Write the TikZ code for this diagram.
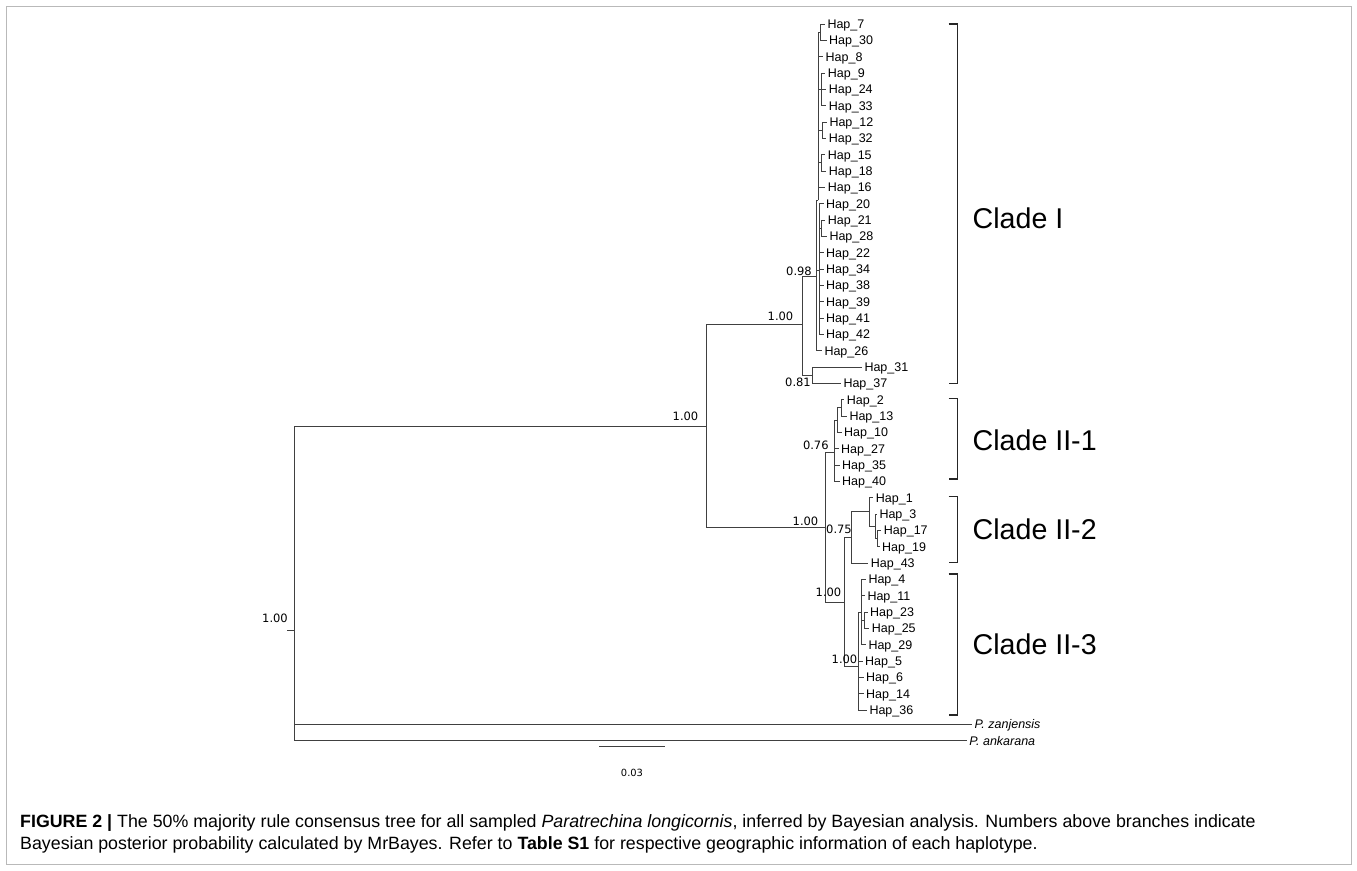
\documentclass[tikz,border=0pt]{standalone}
\usepackage{fontspec}
\setmainfont{Liberation Sans}
\newfontfamily\ppfont{DejaVu Sans}
\begin{document}
\begin{tikzpicture}[x=1pt, y=-1pt,
    br/.style={draw=black!75, line width=0.95pt},
    hap/.style={anchor=west, inner xsep=2.5pt, inner ysep=0pt, text height=9pt, text depth=0pt, font=\fontsize{12.5}{14}\selectfont},
    pp/.style={inner sep=0pt, font=\ppfont\fontsize{11.5}{13}\selectfont},
    brk/.style={draw=black!85, line width=1.3pt},
    clade/.style={anchor=west, inner sep=0pt, font=\fontsize{28.6}{32}\selectfont},
    capline/.style={anchor=base west, inner sep=0pt, font=\fontsize{17.8}{20}\selectfont}
  ]
  \useasboundingbox (0,0) rectangle (1357,870);
  \draw[gray!55, line width=1pt] (6,6) rectangle (1351,864);

  % internal nodes
  \coordinate (root) at (294,630.6);
  \coordinate (ing) at (706,426.7);
  \coordinate (cI) at (802,324.5);
  \coordinate (n98) at (816,276);
  \coordinate (u) at (818,200);
  \coordinate (p730) at (820.5,32.2);
  \coordinate (t924) at (821,89.3);
  \coordinate (p1232) at (822,130.2);
  \coordinate (p1518) at (821,162.8);
  \coordinate (l) at (819.5,270);
  \coordinate (p2128) at (821.5,228.2);
  \coordinate (n81) at (812,375);
  \coordinate (cII) at (825,527);
  \coordinate (n76) at (834,452);
  \coordinate (g) at (837,420);
  \coordinate (p213) at (841.7,407.8);
  \coordinate (ii23) at (844,602.7);
  \coordinate (a22) at (851,537);
  \coordinate (b) at (869,511);
  \coordinate (c) at (875,526);
  \coordinate (d) at (877.5,538.5);
  \coordinate (e3) at (858,666);
  \coordinate (f) at (861,612);
  \coordinate (p2325) at (864,620.2);

  % Clade I leaves
  \node[hap] (h7) at (824.8,24.0) {Hap\_7};
  \node[hap] (h30) at (826.5,40.3) {Hap\_30};
  \node[hap] (h8) at (823,56.7) {Hap\_8};
  \node[hap] (h9) at (825.2,73.0) {Hap\_9};
  \node[hap] (h24) at (826.2,89.3) {Hap\_24};
  \node[hap] (h33) at (826.2,105.7) {Hap\_33};
  \node[hap] (h12) at (826.8,122.0) {Hap\_12};
  \node[hap] (h32) at (826.2,138.3) {Hap\_32};
  \node[hap] (h15) at (825.2,154.6) {Hap\_15};
  \node[hap] (h18) at (826.2,171.0) {Hap\_18};
  \node[hap] (h16) at (825.2,187.3) {Hap\_16};
  \node[hap] (h20) at (823.5,203.6) {Hap\_20};
  \node[hap] (h21) at (825.2,220.0) {Hap\_21};
  \node[hap] (h28) at (826.8,236.3) {Hap\_28};
  \node[hap] (h22) at (823.5,252.6) {Hap\_22};
  \node[hap] (h34) at (823.5,269.0) {Hap\_34};
  \node[hap] (h38) at (823.5,285.3) {Hap\_38};
  \node[hap] (h39) at (823.5,301.6) {Hap\_39};
  \node[hap] (h41) at (823.5,318.0) {Hap\_41};
  \node[hap] (h42) at (823.5,334.3) {Hap\_42};
  \node[hap] (h26) at (821.8,350.6) {Hap\_26};
  \node[hap] (h31) at (861.8,367.0) {Hap\_31};
  \node[hap] (h37) at (840.8,383.3) {Hap\_37};

  % Clade II leaves
  \node[hap] (h2) at (844.2,399.6) {Hap\_2};
  \node[hap] (h13) at (846.8,416.0) {Hap\_13};
  \node[hap] (h10) at (841.5,432.3) {Hap\_10};
  \node[hap] (h27) at (838.5,448.6) {Hap\_27};
  \node[hap] (h35) at (839.5,465.0) {Hap\_35};
  \node[hap] (h40) at (839.5,481.3) {Hap\_40};
  \node[hap] (h1) at (873.2,497.6) {Hap\_1};
  \node[hap] (h3) at (876.8,514.0) {Hap\_3};
  \node[hap] (h17) at (881.2,530.3) {Hap\_17};
  \node[hap] (h19) at (879.5,546.6) {Hap\_19};
  \node[hap] (h43) at (868.2,563.0) {Hap\_43};
  \node[hap] (h4) at (865.8,579.3) {Hap\_4};
  \node[hap] (h11) at (864.8,595.6) {Hap\_11};
  \node[hap] (h23) at (867.5,612.0) {Hap\_23};
  \node[hap] (h25) at (869.2,628.3) {Hap\_25};
  \node[hap] (h29) at (865.8,644.6) {Hap\_29};
  \node[hap] (h5) at (862.5,661.0) {Hap\_5};
  \node[hap] (h6) at (863.5,677.3) {Hap\_6};
  \node[hap] (h14) at (863.5,693.6) {Hap\_14};
  \node[hap] (h36) at (866.8,710.0) {Hap\_36};

  % outgroups
  \node[hap, font=\fontsize{12.5}{14}\selectfont\itshape] (zan) at (972,724.3) {P. zanjensis};
  \node[hap, font=\fontsize{12.5}{14}\selectfont\itshape] (ank) at (966.7,740.7) {P. ankarana};

  % branches
  \draw[br] (root) |- (ing); \draw[br] (root) |- (zan.west); \draw[br] (root) |- (ank.west);
  \draw[br] (root) -- ++(-7,0);
  \draw[br] (ing) |- (cI); \draw[br] (ing) |- (cII);
  \draw[br] (cI) |- (n98); \draw[br] (cI) |- (n81);
  \draw[br] (n81) |- (h31.west); \draw[br] (n81) |- (h37.west);
  \draw[br] (n98) |- (u); \draw[br] (n98) |- (l); \draw[br] (n98) |- (h26.west);
  \draw[br] (u) |- (p730); \draw[br] (u) |- (h8.west); \draw[br] (u) |- (t924);
  \draw[br] (u) |- (p1232); \draw[br] (u) |- (p1518); \draw[br] (u) |- (h16.west);
  \draw[br] (p730) |- (h7.west); \draw[br] (p730) |- (h30.west);
  \draw[br] (t924) |- (h9.west); \draw[br] (t924) |- (h24.west); \draw[br] (t924) |- (h33.west);
  \draw[br] (p1232) |- (h12.west); \draw[br] (p1232) |- (h32.west);
  \draw[br] (p1518) |- (h15.west); \draw[br] (p1518) |- (h18.west);
  \draw[br] (l) |- (h20.west); \draw[br] (l) |- (p2128); \draw[br] (l) |- (h22.west);
  \draw[br] (l) |- (h34.west); \draw[br] (l) |- (h38.west); \draw[br] (l) |- (h39.west);
  \draw[br] (l) |- (h41.west); \draw[br] (l) |- (h42.west);
  \draw[br] (p2128) |- (h21.west); \draw[br] (p2128) |- (h28.west);
  \draw[br] (cII) |- (n76); \draw[br] (cII) |- (ii23);
  \draw[br] (n76) |- (g); \draw[br] (n76) |- (h27.west); \draw[br] (n76) |- (h35.west); \draw[br] (n76) |- (h40.west);
  \draw[br] (g) |- (p213); \draw[br] (g) |- (h10.west);
  \draw[br] (p213) |- (h2.west); \draw[br] (p213) |- (h13.west);
  \draw[br] (ii23) |- (a22); \draw[br] (ii23) |- (e3);
  \draw[br] (a22) |- (b); \draw[br] (a22) |- (h43.west);
  \draw[br] (b) |- (h1.west); \draw[br] (b) |- (c);
  \draw[br] (c) |- (h3.west); \draw[br] (c) |- (d);
  \draw[br] (d) |- (h17.west); \draw[br] (d) |- (h19.west);
  \draw[br] (e3) |- (f); \draw[br] (e3) |- (h5.west); \draw[br] (e3) |- (h6.west);
  \draw[br] (e3) |- (h14.west); \draw[br] (e3) |- (h36.west);
  \draw[br] (f) |- (h4.west); \draw[br] (f) |- (h11.west); \draw[br] (f) |- (p2325); \draw[br] (f) |- (h29.west);
  \draw[br] (p2325) |- (h23.west); \draw[br] (p2325) |- (h25.west);

  % posterior probabilities
  \node[pp] (ppRoot) at (275,618) {1.00};
  \node[pp] (ppIng) at (685.5,416.5) {1.00};
  \node[pp] (ppI) at (780.5,316) {1.00};
  \node[pp] (pp98) at (799,271) {0.98};
  \node[pp] (pp81) at (798,382.5) {0.81};
  \node[pp] (ppII) at (805.5,521) {1.00};
  \node[pp] (pp76) at (815.8,445) {0.76};
  \node[pp] (pp75) at (839,529) {0.75};
  \node[pp] (ppII23) at (828.5,592) {1.00};
  \node[pp] (ppII3) at (844.5,659.5) {1.00};

  % clade brackets
  \draw[brk] (948.5,24) -- (957.5,24) -- (957.5,383.3) -- (948.5,383.3);
  \draw[brk] (948.5,398.3) -- (957.5,398.3) -- (957.5,479) -- (948.5,479);
  \draw[brk] (948.5,496.7) -- (957.5,496.7) -- (957.5,562.7) -- (948.5,562.7);
  \draw[brk] (948.5,574) -- (957.5,574) -- (957.5,715) -- (948.5,715);
  \node[clade] (cladeI) at (972.5,218) {Clade I};
  \node[clade] (cladeII1) at (972.5,440) {Clade II-1};
  \node[clade] (cladeII2) at (972.5,529.7) {Clade II-2};
  \node[clade] (cladeII3) at (972.5,644.5) {Clade II-3};

  % scale bar
  \coordinate (sb1) at (599,746);
  \coordinate (sb2) at (665,746);
  \draw[br] (sb1) -- (sb2);
  \node[pp, font=\ppfont\fontsize{9.9}{11}\selectfont] (sbl) at (632,773) {0.03};

  % caption
  \node[capline] (cap1) at (20,827) {\textbf{FIGURE 2 |} The 50\% majority rule consensus tree for all sampled \textit{Paratrechina longicornis}, inferred by Bayesian analysis. Numbers above branches indicate};
  \node[capline] (cap2) at (20,849) {Bayesian posterior probability calculated by MrBayes. Refer to \textbf{Table S1} for respective geographic information of each haplotype.};
\end{tikzpicture}
\end{document}
